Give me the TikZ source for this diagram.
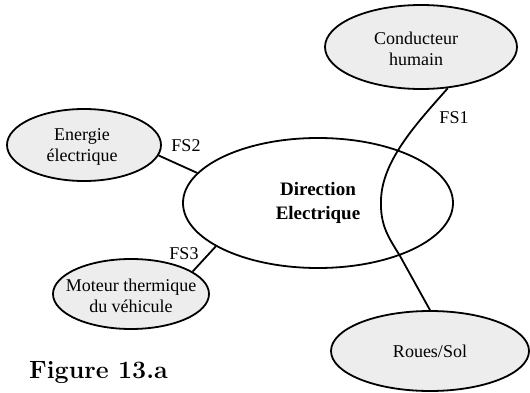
\documentclass[tikz,border=0pt]{standalone}
\usepackage{fontspec}
\newfontfamily\tms{Liberation Serif}
\usetikzlibrary{shapes.geometric}
\definecolor{fillg}{RGB}{237,237,237}
\tikzset{
  txt/.style={font=\tms\fontsize{18}{21}\selectfont, align=center, inner sep=0pt},
  ent/.style={ellipse, draw, line width=1.8pt, fill=fillg, inner sep=0pt},
  conn/.style={line width=1.8pt},
}
\begin{document}
\begin{tikzpicture}[x=1pt,y=-1pt]
\useasboundingbox (0,0) rectangle (530,393);
\node[ent, ellipse, draw, fill=none, minimum width=270pt, minimum height=130pt,
  label={[txt, font=\tms\bfseries\fontsize{19}{24}\selectfont]center:Direction\\Electrique}] (dir) at (318,203) {};
\node[ent, minimum width=192pt, minimum height=84pt,
  label={[txt, yshift=-2pt, xshift=-5pt]center:Conducteur\\humain}] (cond) at (421,47) {};
\node[ent, minimum width=154pt, minimum height=72pt,
  label={[txt, xshift=-2pt, yshift=-2pt]center:Energie\\électrique}] (ener) at (84,145) {};
\node[ent, minimum width=156pt, minimum height=70pt,
  label={[txt, yshift=-2pt]center:Moteur thermique\\du véhicule}] (mot) at (131,294) {};
\node[ent, minimum width=198pt, minimum height=80pt,
  label={[txt]center:Roues/Sol}] (roues) at (430,351) {};
\draw[conn] (ener.-8) -- (dir.166);
\draw[conn] (mot.20) -- (dir.203);
\draw[conn] (cond.-57) .. controls (418,122) and (382,160) .. (381,200)
  .. controls (380,226) and (389,238) .. (400,256) -- (roues.north);
\node[txt] (fs1) at (454,118) {FS1};
\node[txt] (fs2) at (186,146) {FS2};
\node[txt] (fs3) at (184,254) {FS3};
\node[font=\bfseries\fontsize{25}{29}\selectfont, anchor=base west, inner sep=0pt] (fig) at (29,378) {Figure 13.a};
\end{tikzpicture}
\end{document}
